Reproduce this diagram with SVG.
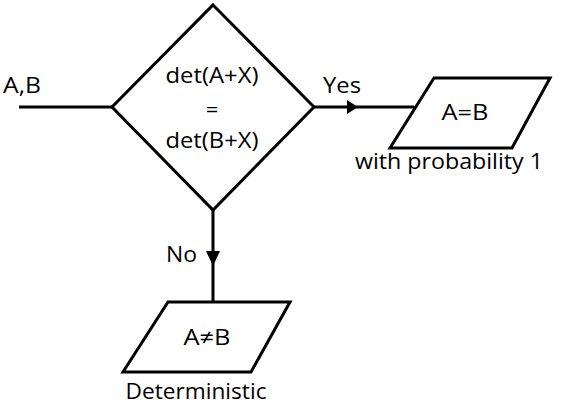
<svg xmlns="http://www.w3.org/2000/svg" width="565" height="411" viewBox="0 0 565 411">
<style>
.s{fill:#fff;stroke:#000;stroke-width:3;stroke-linejoin:miter}
.l{fill:none;stroke:#000;stroke-width:3}
text{font-family:"Open Sans","Noto Sans","DejaVu Sans",sans-serif;font-size:22px;fill:#000}
.m{text-anchor:middle}
</style>
<rect width="565" height="411" fill="#fff"/>
<g id="connectors">
<line class="l" x1="19" y1="107" x2="112" y2="107"/>
<line class="l" x1="314" y1="107" x2="414" y2="107"/>
<polygon points="347,100 358,107 347,114" fill="#000"/>
<line class="l" x1="213" y1="210" x2="213" y2="301"/>
<polygon points="206,251 220,251 213,266" fill="#000"/>
<text x="3" y="93" textLength="38" lengthAdjust="spacingAndGlyphs">A,B</text>
<text x="323" y="93" textLength="38" lengthAdjust="spacingAndGlyphs">Yes</text>
<text x="166" y="262" textLength="31" lengthAdjust="spacingAndGlyphs">No</text>
</g>
<g id="decision">
<polygon class="s" points="213,5 314,107 213,210 112,107"/>
<text class="m" x="212" y="83" textLength="93" lengthAdjust="spacingAndGlyphs">det(A+X)</text>
<text class="m" x="212" y="117">=</text>
<text class="m" x="212" y="148" textLength="93" lengthAdjust="spacingAndGlyphs">det(B+X)</text>
</g>
<g id="equal">
<polygon class="s" points="434,78 550,78 512,148 390,148"/>
<text class="m" x="465" y="120" textLength="47" lengthAdjust="spacingAndGlyphs">A=B</text>
<text class="m" x="449" y="169" textLength="188" lengthAdjust="spacingAndGlyphs">with probability 1</text>
</g>
<g id="notequal">
<polygon class="s" points="168,302 290,302 251,372 123,372"/>
<text class="m" x="207" y="345" textLength="47" lengthAdjust="spacingAndGlyphs">A≠B</text>
<text class="m" x="196" y="399" textLength="141" lengthAdjust="spacingAndGlyphs">Deterministic</text>
</g>
</svg>
